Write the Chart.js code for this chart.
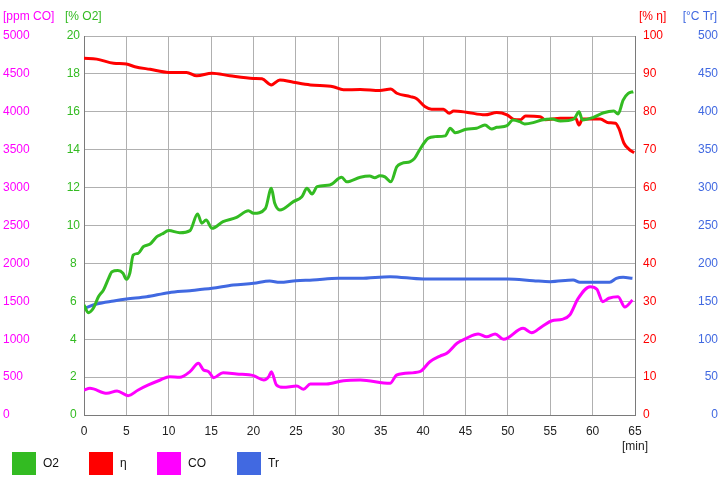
<!DOCTYPE html>
<html>
<head>
<meta charset="utf-8">
<script src="https://cdn.jsdelivr.net/npm/chart.js@4"></script>
<style>
  html, body { margin: 0; padding: 0; background: #fff; }
  #wrap { width: 720px; height: 480px; }
</style>
</head>
<body>
<div id="wrap"><canvas id="chart" width="720" height="480"></canvas></div>
<script>
// x ticks (min)
const xTicks = [0, 5, 10, 15, 20, 25, 30, 35, 40, 45, 50, 55, 60, 65];

// O2 [%]
const o2Min = [0, 0.5, 1.1, 1.7, 2.3, 2.9, 3.3, 4.0, 4.6, 5.0, 5.4, 5.8, 6.4, 7.0, 7.8, 8.6, 9.2, 10.0,
  11.3, 12.5, 13.4, 13.9, 14.4, 15.1, 16.4, 18.0, 19.4, 20.0, 21.4, 22.1, 22.5, 23.1, 24.7, 25.7, 26.3,
  26.9, 27.5, 29.0, 30.4, 31.0, 32.6, 33.7, 34.3, 34.9, 35.5, 36.2, 36.9, 37.5, 38.5, 39.0, 39.6, 40.6,
  41.4, 42.6, 43.2, 43.8, 45.1, 46.3, 47.3, 48.1, 48.7, 49.9, 50.6, 51.4, 52.0, 53.0, 54.0, 55.2, 56.2,
  57.8, 58.4, 58.8, 60.1, 61.3, 62.5, 63.0, 63.6, 64.2, 64.8];
const o2Val = [5.8, 5.4, 5.63, 6.24, 6.6, 7.21, 7.56, 7.62, 7.48, 7.16, 7.48, 8.44, 8.53, 8.88, 9.02, 9.41, 9.55, 9.73,
  9.62, 9.73, 10.61, 10.12, 10.29, 9.85, 10.2, 10.43, 10.78, 10.64, 10.9, 11.96, 11.17, 10.82, 11.26, 11.52, 11.96,
  11.66, 12.05, 12.14, 12.54, 12.31, 12.55, 12.61, 12.52, 12.63, 12.57, 12.31, 13.1, 13.28, 13.37, 13.54, 14.0, 14.6,
  14.69, 14.73, 15.13, 14.9, 15.08, 15.13, 15.3, 15.09, 15.18, 15.27, 15.57, 15.48, 15.36, 15.43, 15.57, 15.62, 15.51,
  15.62, 16.0, 15.57, 15.71, 15.95, 16.04, 15.88, 16.62, 16.97, 17.06];

// efficiency η [%]
const etaMin = [0, 1.5, 3.5, 5.0, 6.0, 7.8, 10.0, 12.1, 13.3, 15.1, 17.2, 20.0, 21.0, 22.1, 23.1, 24.7, 26.7,
  29.4, 30.6, 32.6, 34.9, 36.2, 36.9, 38.5, 39.2, 40.2, 41.0, 42.4, 43.1, 43.6, 45.1, 47.3, 48.7, 49.9, 50.7,
  51.5, 52.1, 53.8, 54.4, 56.2, 58.0, 58.4, 58.8, 60.9, 61.9, 62.7, 63.1, 63.7, 64.3, 64.9];
const etaVal = [94.1, 93.9, 92.8, 92.6, 91.9, 91.2, 90.4, 90.4, 89.5, 90.2, 89.5, 88.8, 88.7, 87.1, 88.4, 87.8, 87.1,
  86.6, 85.8, 85.9, 85.6, 86.0, 84.9, 84.0, 83.5, 81.4, 80.7, 80.7, 79.6, 80.2, 79.9, 79.2, 79.8, 79.2, 78.0,
  77.9, 78.9, 78.7, 77.9, 78.3, 78.3, 76.5, 78.1, 78.1, 77.1, 77.0, 75.6, 71.7, 70.1, 69.2];

// CO [ppm]
const coMin = [0, 0.7, 2.7, 3.9, 5.2, 6.4, 7.6, 9.0, 10.1, 11.3, 12.5, 13.5, 14.1, 14.7, 15.3, 16.4, 18.0, 20.0,
  21.2, 21.8, 22.1, 22.7, 23.5, 25.1, 25.9, 26.7, 28.6, 30.6, 32.6, 36.1, 36.9, 39.6, 40.8, 42.0, 42.8, 44.0,
  45.1, 46.5, 47.5, 48.5, 49.5, 51.8, 52.8, 54.0, 55.2, 56.4, 57.3, 58.3, 59.7, 60.5, 61.2, 61.9, 63.0, 63.8, 64.7];
const coVal = [330, 352, 286, 317, 255, 330, 396, 462, 506, 497, 572, 682, 594, 572, 492, 558, 541, 519,
  462, 506, 572, 396, 365, 383, 339, 409, 409, 453, 462, 418, 528, 572, 703, 778, 814, 946,
  1012, 1069, 1033, 1069, 998, 1143, 1086, 1165, 1244, 1262, 1319, 1539, 1693, 1660, 1495, 1540, 1561, 1425, 1517];

// Tr [°C]
const trMin = [0, 1.5, 3.5, 5.0, 7.4, 10.0, 12.5, 15.1, 17.6, 20.0, 21.9, 23.1, 25.0, 27.0, 30.0, 32.6, 36.1,
  40.0, 45.0, 50.0, 53.0, 55.0, 57.7, 58.5, 60.1, 62.0, 62.8, 63.6, 64.7];
const trVal = [140.7, 146.4, 150.4, 153.0, 156.1, 161.4, 164.0, 167.1, 171.5, 173.7, 176.8, 175.0, 177.2, 178.1, 180.3, 180.3, 182.5,
  179.4, 179.4, 179.4, 177.2, 175.9, 178.1, 175.0, 175.0, 175.0, 180.3, 181.6, 180.3];

const legendNames = ['O2', 'η', 'CO', 'Tr'];
const COLORS = { o2: '#33bb22', eta: '#ff0000', co: '#ff00ff', tr: '#4169e1' };
const FONT = { family: '"Liberation Sans", Arial, sans-serif', size: 12 };
const GRID = '#b0b0b0';
const BORDER = '#7a7a7a';

function pts(xs, ys) {
  return xs.map((x, i) => ({ x, y: ys[i] }));
}

function fixWidth(w) {
  return (scale) => { scale.width = w; };
}

const plain = (v) => String(v);

const extras = {
  id: 'extras',
  afterDraw(chart) {
    const ctx = chart.ctx;
    const area = chart.chartArea;
    ctx.save();
    ctx.font = '12px ' + FONT.family;
    ctx.textBaseline = 'middle';
    // axis titles
    ctx.textAlign = 'left';
    ctx.fillStyle = COLORS.co; ctx.fillText('[ppm CO]', 3, 17);
    ctx.fillStyle = COLORS.o2; ctx.fillText('[% O2]', 65, 17);
    ctx.fillStyle = COLORS.eta; ctx.fillText('[% η]', 639, 17);
    ctx.textAlign = 'right';
    ctx.fillStyle = COLORS.tr; ctx.fillText('[°C Tr]', 717, 17);
    // x unit
    ctx.textAlign = 'center';
    ctx.fillStyle = '#222';
    ctx.fillText('[min]', area.right, 447);
    // legend
    const boxX = [12, 89, 157, 237];
    ctx.textAlign = 'left';
    chart.data.datasets.forEach((ds, i) => {
      ctx.fillStyle = ds.borderColor;
      ctx.fillRect(boxX[i], 452, 24, 23);
      ctx.fillStyle = '#111';
      ctx.fillText(legendNames[i], boxX[i] + 31, 464);
    });
    ctx.restore();
  }
};

new Chart(document.getElementById('chart'), {
  type: 'line',
  data: {
    datasets: [
      { label: legendNames[0], data: pts(o2Min, o2Val), yAxisID: 'yO2', borderColor: COLORS.o2 },
      { label: legendNames[1], data: pts(etaMin, etaVal), yAxisID: 'yEta', borderColor: COLORS.eta },
      { label: legendNames[2], data: pts(coMin, coVal), yAxisID: 'yCO', borderColor: COLORS.co },
      { label: legendNames[3], data: pts(trMin, trVal), yAxisID: 'yTr', borderColor: COLORS.tr }
    ]
  },
  options: {
    responsive: false,
    animation: false,
    layout: { padding: { left: 3, right: 2, top: 36, bottom: 0 } },
    elements: {
      line: { borderWidth: 3, tension: 0.25, cubicInterpolationMode: 'monotone' },
      point: { radius: 0 }
    },
    plugins: { legend: { display: false }, tooltip: { enabled: false } },
    scales: {
      x: {
        type: 'linear', min: 0, max: 65,
        afterFit: (s) => { s.height = 65; },
        afterBuildTicks: (s) => { s.ticks = xTicks.map(v => ({ value: v })); },
        ticks: { color: '#222', font: FONT, padding: 9, maxRotation: 0, autoSkip: false, callback: plain },
        grid: { color: GRID, drawTicks: false },
        border: { color: BORDER }
      },
      yCO: {
        position: 'left', weight: 2, min: 0, max: 5000,
        afterFit: fixWidth(60),
        ticks: { stepSize: 500, color: COLORS.co, font: FONT, crossAlign: 'far', callback: plain },
        grid: { display: false, drawTicks: false },
        border: { display: false }
      },
      yO2: {
        position: 'left', weight: 1, min: 0, max: 20,
        afterFit: fixWidth(21),
        ticks: { stepSize: 2, color: COLORS.o2, font: FONT, crossAlign: 'center', padding: 4, callback: plain },
        grid: { color: GRID, drawTicks: false },
        border: { color: BORDER }
      },
      yEta: {
        position: 'right', weight: 1, min: 0, max: 100,
        afterFit: fixWidth(55),
        ticks: { stepSize: 10, color: COLORS.eta, font: FONT, crossAlign: 'near', padding: 8, callback: plain },
        grid: { display: false, drawTicks: false },
        border: { color: BORDER }
      },
      yTr: {
        position: 'right', weight: 2, min: 0, max: 500,
        afterFit: fixWidth(28),
        ticks: { stepSize: 50, color: COLORS.tr, font: FONT, crossAlign: 'far', callback: plain },
        grid: { display: false, drawTicks: false },
        border: { display: false }
      }
    }
  },
  plugins: [extras]
});
</script>
</body>
</html>
